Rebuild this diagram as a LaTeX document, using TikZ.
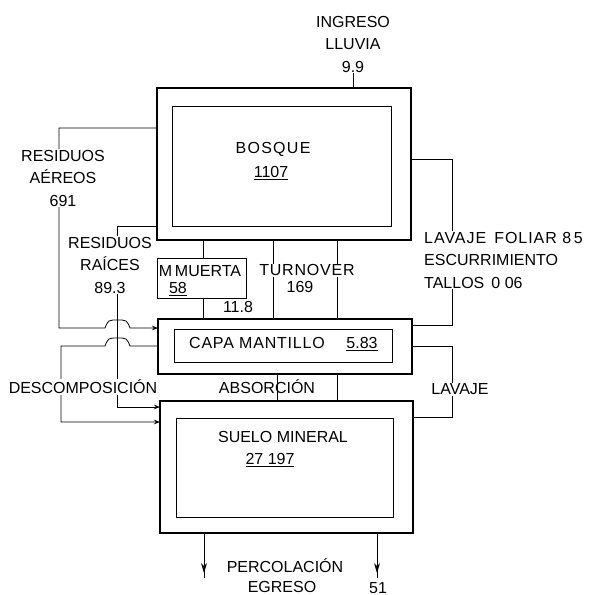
\documentclass[tikz,border=0pt]{standalone}
\usepackage{fontspec}
\setmainfont{Liberation Sans}
\usetikzlibrary{arrows.meta}
\begin{document}
\begin{tikzpicture}[x=1pt,y=-1pt,
 outerbox/.style={draw, line width=1.3pt, inner sep=0pt, outer sep=0pt},
 innerbox/.style={draw, line width=0.8pt, inner sep=0pt, outer sep=0pt},
 lbl/.style={inner sep=1pt, font=\fontsize{16}{22.5}\selectfont, align=center},
 wlbl/.style={lbl, fill=white},
 flow/.style={line width=0.8pt},
 tip/.style={-{Stealth[length=6pt,width=4.5pt]}},
 bigtip/.style={-{Stealth[length=10pt,width=6pt]}}
]
\useasboundingbox (0,0) rectangle (593,595);
% boxes
\node[outerbox, minimum width=254pt, minimum height=152pt] (bosque) at (284,164) {};
\node[innerbox, minimum width=219pt, minimum height=120pt] (bosquein) at (281.5,166) {};
\node[outerbox, line width=1pt, minimum width=89pt, minimum height=40pt] (mm) at (201.5,278) {};
\node[outerbox, minimum width=254pt, minimum height=55pt] (capa) at (285,346.5) {};
\node[innerbox, minimum width=218pt, minimum height=33pt] (capain) at (283,345.5) {};
\node[outerbox, minimum width=253pt, minimum height=132pt] (suelo) at (286.5,467) {};
\node[innerbox, minimum width=217pt, minimum height=99pt] (sueloin) at (284.5,467.5) {};
% labels that need no mask
\node[lbl] (ingreso) at (353,44) {INGRESO\\LLUVIA\\9.9};
% connectors
\draw[flow] (ingreso.south) -- (ingreso.south |- bosque.north);
\draw[flow,tip] (bosque.west |- 0,128) -- (59,128) -- (59,328) -- (105,328)
  .. controls (108,320) and (110,320) .. (113,320) -- (122,320)
  .. controls (125,320) and (127,320) .. (130,328) -- (capa.west |- 0,328);
\draw[flow,tip] (capa.west |- 0,346) -- (130,346)
  .. controls (127,338) and (125,338) .. (122,338) -- (113,338)
  .. controls (110,338) and (108,338) .. (105,346) -- (61,346) -- (61,422) -- (suelo.west |- 0,422);
\draw[flow,tip] (bosque.west |- 0,226) -- (117,226) -- (117,407) -- (suelo.west |- 0,407);
\draw[flow] (bosque.south -| 203,0) -- (mm.north -| 203,0);
\draw[flow] (mm.south -| 203,0) -- (capa.north -| 203,0);
\draw[flow] (bosque.south -| 273,0) -- (capa.north -| 273,0);
\draw[flow] (bosque.south -| 337,0) -- (capa.north -| 337,0);
\draw[flow] (capa.south -| 277,0) -- (suelo.north -| 277,0);
\draw[flow] (capa.south -| 337,0) -- (suelo.north -| 337,0);
\draw[flow] (bosque.east |- 0,159) -- (452,159) -- (452,325) -- (capa.east |- 0,325);
\draw[flow] (capa.east |- 0,346) -- (452,346) -- (452,417) -- (suelo.east |- 0,417);
\coordinate (egA) at (204,578);
\coordinate (egB) at (377,578);
\draw[flow] (suelo.south -| egA) -- (egA);
\draw[flow] (suelo.south -| egB) -- (egB);
\draw[flow,bigtip] (204,556) -- (204,573);
\draw[flow,bigtip] (377,556) -- (377,573);
% texts
\node[lbl] (tbosque) at (273,149) {{\addfontfeature{LetterSpace=8}BOSQUE}};
\node[lbl, anchor=base] (vbosque) at (271,177.7) {\underline{1107}};
\node[wlbl] (raer) at (63,178) {RESIDUOS\\AÉREOS\\691};
\node[wlbl] (rraic) at (110,265) {RESIDUOS\\RAÍCES\\89.3};
\node[lbl, font=\fontsize{16}{18}\selectfont, anchor=base] (tmm) at (200,276.5) {M\,MUERTA};
\node[lbl, anchor=base] (vmm) at (178,293.7) {\underline{58}};
\node[lbl, anchor=base] (v118) at (238,312.7) {11.8};
\node[wlbl, anchor=base] (turn) at (307,275.7) {{\addfontfeature{LetterSpace=5}TURNOVER}};
\node[lbl, anchor=base] (vturn) at (300,292.7) {169};
\node[wlbl, align=left, anchor=west] (lfol) at (423,260) {{\addfontfeature{LetterSpace=6}LAVAJE\, FOLIAR 8\,5}\\ESCURRIMIENTO\\TALLOS\, 0 06};
\node[lbl, anchor=base] (tcapa) at (257,348.7) {{\addfontfeature{LetterSpace=5}CAPA MANTILLO}};
\node[lbl, anchor=base] (vcapa) at (362,348.7) {\underline{5.83}};
\node[wlbl, anchor=base] (desc) at (83,393.7) {DESCOMPOSICIÓN};
\node[lbl, anchor=base] (abs) at (267,393.7) {ABSORCIÓN};
\node[wlbl, anchor=base] (lav) at (460,394.7) {LAVAJE};
\node[lbl, anchor=base] (tsuelo) at (283,442.7) {SUELO MINERAL};
\node[lbl, anchor=base] (vsuelo) at (270,464.7) {\underline{27 197}};
\node[lbl, anchor=base] (perc) at (285,572.7) {PERCOLACIÓN};
\node[lbl, anchor=base] (egr) at (282,592.7) {EGRESO};
\node[lbl, anchor=base] (v51) at (378,593) {51};
\end{tikzpicture}
\end{document}
